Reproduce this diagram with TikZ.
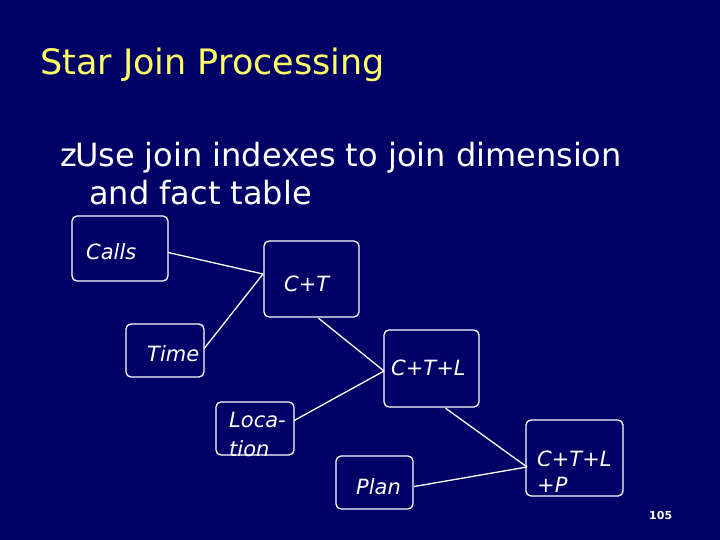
\documentclass[tikz,border=0pt]{standalone}
\usepackage{fontspec}
\setmainfont{DejaVu Sans}
\definecolor{bg}{HTML}{000066}
\definecolor{ttl}{HTML}{FFFF66}
\begin{document}
\begin{tikzpicture}[x=1pt,y=-1pt,
  lbl/.style={text=white,font=\fontsize{21}{22}\selectfont\itshape,anchor=base west,inner sep=0pt,align=left},
  edge/.style={draw=white,line width=1.3pt}]
\fill[bg] (0,0) rectangle (720,540);
\useasboundingbox (0,0) rectangle (720,540);
\node[text=ttl,font=\fontsize{35}{36}\selectfont,anchor=base west,inner sep=0pt] (title) at (40,75) {Star Join Processing};
\node[text=white,font=\fontsize{32}{38}\selectfont,anchor=base west,inner sep=0pt] (bul1) at (60,167) {z\hspace{-2pt}Use join indexes to join dimension};
\node[text=white,font=\fontsize{32}{38}\selectfont,anchor=base west,inner sep=0pt] (bul2) at (89,205) {and fact table};
% boxes
\draw[edge,rounded corners=5pt] (72,216) rectangle (168,281);
\node[inner sep=0pt,minimum width=96pt,minimum height=65pt] (calls) at (120,248.5) {};
\draw[edge,rounded corners=5pt] (264,241) rectangle (359,317);
\node[inner sep=0pt,minimum width=95pt,minimum height=76pt] (ct) at (311.5,279) {};
\draw[edge,rounded corners=5pt] (126,324) rectangle (204,377);
\node[inner sep=0pt,minimum width=78pt,minimum height=53pt] (time) at (165,350.5) {};
\draw[edge,rounded corners=5pt] (384,330) rectangle (479,407);
\node[inner sep=0pt,minimum width=95pt,minimum height=77pt] (ctl) at (431.5,368.5) {};
\draw[edge,rounded corners=5pt] (216,402) rectangle (294,455);
\node[inner sep=0pt,minimum width=78pt,minimum height=53pt] (loc) at (255,428.5) {};
\draw[edge,rounded corners=5pt] (336,456) rectangle (413,509);
\node[inner sep=0pt,minimum width=77pt,minimum height=53pt] (plan) at (374.5,482.5) {};
\draw[edge,rounded corners=5pt] (526,420) rectangle (623,496);
\node[inner sep=0pt,minimum width=97pt,minimum height=76pt] (ctlp) at (574.5,458) {};
% labels
\node[lbl] (tcalls) at (86,259) {Calls};
\node[lbl] (tct) at (284,291) {C+T};
\node[lbl] (ttime) at (147,361) {Time};
\node[lbl] (tctl) at (391,375) {C+T+L};
\node[lbl] (tloc1) at (229,427) {Loca-};
\node[lbl] (tloc2) at (229,456) {tion};
\node[lbl] (tplan) at (356,494) {Plan};
\node[lbl] (tctlp1) at (537,466) {C+T+L};
\node[lbl] (tctlp2) at (537,492) {+P};
\node[text=white,font=\fontsize{11}{12}\selectfont\bfseries,anchor=base west,inner sep=0pt] (pg) at (649,519) {105};
% connectors
\coordinate (ctw) at (263,274);
\coordinate (ctlw) at (384,371);
\coordinate (ctlpw) at (527,467);
\draw[edge] (calls.east) ++(0,4) -- (ctw);
\draw[edge] (time.east) ++(0,-2) -- (ctw);
\draw[edge] (ct.south) ++(7,1) -- (ctlw);
\draw[edge] (loc.east) ++(0,-8) -- (ctlw);
\draw[edge] (ctl.south) ++(14,1) -- (ctlpw);
\draw[edge] (plan.east) ++(1,4) -- (ctlpw);
\end{tikzpicture}
\end{document}
